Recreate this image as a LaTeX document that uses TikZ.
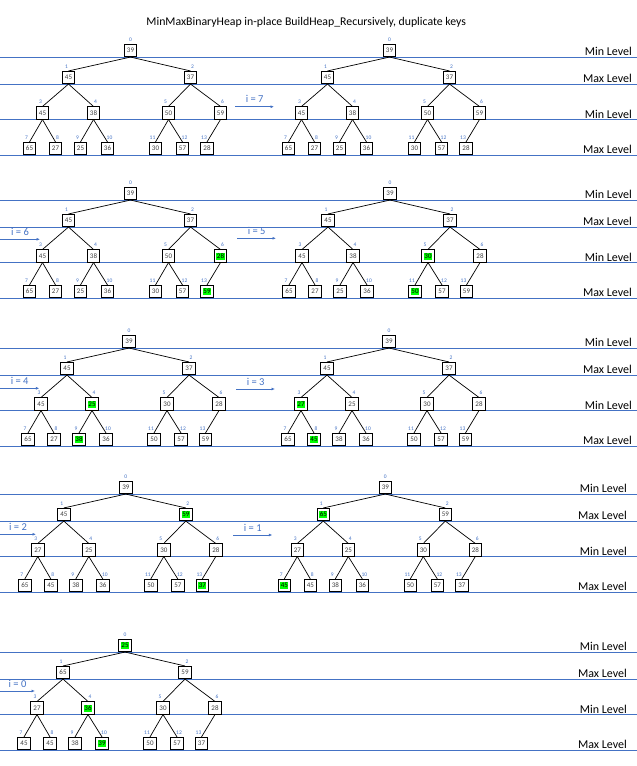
\documentclass[tikz,border=0pt]{standalone}
\usepackage{fontspec}
\setmainfont{Carlito}
\usepackage{xcolor}
\usepackage{tikz}
\usetikzlibrary{positioning,arrows.meta}

\definecolor{azul}{HTML}{4472C4}
\definecolor{resalte}{HTML}{00FF00}
\definecolor{texto}{HTML}{404040}

\tikzset{
  caja/.style={draw=black, line width=0.8pt, fill=white, minimum size=12.3pt, inner sep=0pt,
    font=\fontsize{7}{7}\selectfont, text=texto},
  indice/.style={font=\fontsize{5.5}{5.5}\selectfont, text=azul, inner sep=0.3pt},
  arista/.style={line width=0.7pt},
  regla/.style={draw=azul, line width=0.8pt},
  nivel/.style={font=\fontsize{12}{12}\selectfont, anchor=base east, inner sep=0pt},
  titulo/.style={font=\fontsize{11.8}{11.8}\selectfont, anchor=base, inner sep=0pt},
  flecha/.style={draw=azul, line width=0.8pt, -{Latex[length=3.5pt,width=3pt]}},
  itxt/.style={font=\fontsize{10.5}{10.5}\selectfont, text=azul, inner sep=0pt},
}

% Texto normal (nd) o resaltado en verde (hl)
\newcommand{\vnd}[1]{#1}
\newcommand{\vhl}[1]{{\setlength{\fboxsep}{0.6pt}%
  \colorbox{resalte}{\color{black}\rule[-0.8pt]{0pt}{5.8pt}#1}}}

% Un arbol: #1 prefijo, #2 x de la raiz, #3 y de la primera linea, #4 valor/estilo
\newcommand{\arbol}[4]{%
  \foreach \v/\s [count=\k from 0] in {#4} {
    \pgfmathsetmacro{\nx}{#2+{0,-62,60,-88,-37,38,90,-101,-75,-50,-23,25,52,76.5}[\k]}
    \pgfmathsetmacro{\ny}{#3-6.5+{0,27,27,62.5,62.5,62.5,62.5,98,98,98,98,98,98,98}[\k]}
    \pgfmathsetmacro{\ls}{{0,-2,2,-2,2,-3,2,-3,2,-3,2,-3,2,-3}[\k]}
    \node[caja,label={[indice,xshift=\ls pt,label distance=2pt]above:\k}] (#1-\k) at (\nx,\ny)
      {\csname v\s\endcsname{\v}};
    \ifnum\k>0
      \pgfmathtruncatemacro{\p}{(\k-1)/2}
      \draw[arista] (#1-\p.south) -- (#1-\k.north);
    \fi
  }
}

\begin{document}
\begin{tikzpicture}[x=1pt,y=-1pt]
  \useasboundingbox (0,0) rectangle (637,766);

  % Titulo
  \node[titulo] (tit) at (306.3,25) {MinMaxBinaryHeap in-place BuildHeap\_Recursively, duplicate keys};

  % Lineas de nivel
  \foreach \b/\xe [count=\r] in {57/632,200/632,348/632,494/627,652/627} {
    \foreach \o/\t [count=\j] in {0/Min,27/Max,62.5/Min,98/Max} {
      \draw[regla] (0,\b+\o) -- (637,\b+\o);
      \node[nivel] (niv-\r-\j) at (\xe,\b+\o-1.5) {\t\ Level};
    }
  }

  % Arbol inicial
  \arbol{a}{130.5}{57}{39/nd,45/nd,37/nd,45/nd,38/nd,50/nd,59/nd,65/nd,27/nd,25/nd,36/nd,30/nd,57/nd,28/nd}
  % i = 7
  \arbol{b}{389.5}{57}{39/nd,45/nd,37/nd,45/nd,38/nd,50/nd,59/nd,65/nd,27/nd,25/nd,36/nd,30/nd,57/nd,28/nd}
  % i = 6
  \arbol{c}{130.5}{200}{39/nd,45/nd,37/nd,45/nd,38/nd,50/nd,28/hl,65/nd,27/nd,25/nd,36/nd,30/nd,57/nd,59/hl}
  % i = 5
  \arbol{d}{390}{200}{39/nd,45/nd,37/nd,45/nd,38/nd,30/hl,28/nd,65/nd,27/nd,25/nd,36/nd,50/hl,57/nd,59/nd}
  % i = 4
  \arbol{e}{129}{348}{39/nd,45/nd,37/nd,45/nd,25/hl,30/nd,28/nd,65/nd,27/nd,38/hl,36/nd,50/nd,57/nd,59/nd}
  % i = 3
  \arbol{f}{389}{348}{39/nd,45/nd,37/nd,27/hl,25/nd,30/nd,28/nd,65/nd,45/hl,38/nd,36/nd,50/nd,57/nd,59/nd}
  % i = 2
  \arbol{g}{125.8}{494}{39/nd,45/nd,59/hl,27/nd,25/nd,30/nd,28/nd,65/nd,45/nd,38/nd,36/nd,50/nd,57/nd,37/hl}
  % i = 1
  \arbol{h}{385.3}{494}{39/nd,65/hl,59/nd,27/nd,25/nd,30/nd,28/nd,45/hl,45/nd,38/nd,36/nd,50/nd,57/nd,37/nd}
  % i = 0
  \arbol{k}{125}{652}{25/hl,65/nd,59/nd,27/nd,36/hl,30/nd,28/nd,45/nd,45/nd,38/nd,39/hl,50/nd,57/nd,37/nd}

  % Flechas con el indice i
  \coordinate (i7a) at (235.3,106.7);  \coordinate (i7b) at (274,106.7);
  \coordinate (i6a) at (0,239.3);      \coordinate (i6b) at (40,239.3);
  \coordinate (i5a) at (237.3,238.3);  \coordinate (i5b) at (276,238.3);
  \coordinate (i4a) at (0,388.3);      \coordinate (i4b) at (39.3,388.3);
  \coordinate (i3a) at (236.3,389);    \coordinate (i3b) at (275,389);
  \coordinate (i2a) at (0,534.3);      \coordinate (i2b) at (36,534.3);
  \coordinate (i1a) at (233.3,535);    \coordinate (i1b) at (272.3,535);
  \coordinate (i0a) at (0,691);        \coordinate (i0b) at (35,691);

  \draw[flecha] (i7a) -- node[itxt,above=3.5pt] (i7) {i = 7} (i7b);
  \draw[flecha] (i6a) -- node[itxt,above=3.5pt] (i6) {i = 6} (i6b);
  \draw[flecha] (i5a) -- node[itxt,above=3.5pt] (i5) {i = 5} (i5b);
  \draw[flecha] (i4a) -- node[itxt,above=3.5pt] (i4) {i = 4} (i4b);
  \draw[flecha] (i3a) -- node[itxt,above=3.5pt] (i3) {i = 3} (i3b);
  \draw[flecha] (i2a) -- node[itxt,above=3.5pt] (i2) {i = 2} (i2b);
  \draw[flecha] (i1a) -- node[itxt,above=3.5pt] (i1) {i = 1} (i1b);
  \draw[flecha] (i0a) -- node[itxt,above=3.5pt] (i0) {i = 0} (i0b);
\end{tikzpicture}
\end{document}
